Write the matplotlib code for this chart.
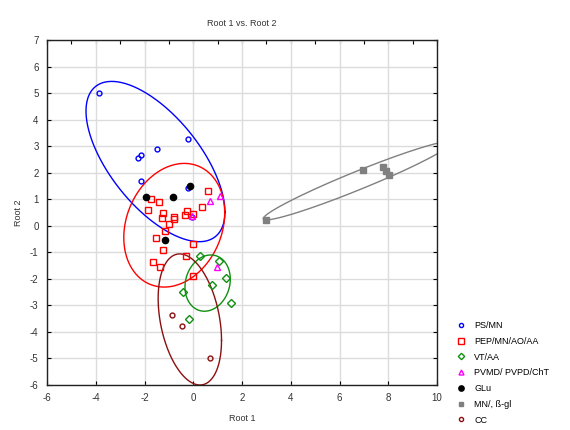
import numpy as np
import matplotlib
matplotlib.use("Agg")
import matplotlib.pyplot as plt
from matplotlib.ticker import MultipleLocator

plt.rcParams['font.family'] = ['Liberation Sans', 'DejaVu Sans']
plt.rcParams['axes.unicode_minus'] = False

# group scores (Root 1, Root 2)
ps_x = [-3.85, -0.20, -1.50, -2.16, -2.25, -2.16, -0.23, -0.04]
ps_y = [5.00, 3.27, 2.89, 2.68, 2.57, 1.68, 1.41, 0.34]

pep_x = [0.62, -1.73, -1.40, 0.35, -1.84, -0.26, -1.23, -0.33, 0.00, -0.79, -0.79,
         -1.30, -1.01, -1.17, -1.54, 0.00, -1.23, -0.30, -1.64, -1.36, -0.02]
pep_y = [1.31, 1.02, 0.88, 0.70, 0.59, 0.57, 0.47, 0.42, 0.44, 0.34, 0.24,
         0.30, 0.07, -0.20, -0.45, -0.70, -0.91, -1.14, -1.38, -1.57, -1.89]

vt_x = [0.28, 1.07, 1.34, 0.78, -0.43, 1.53, -0.16]
vt_y = [-1.14, -1.32, -1.98, -2.23, -2.48, -2.92, -3.51]

pvmd_x = [1.10, 0.70, -0.04, 0.99]
pvmd_y = [1.12, 0.92, 0.38, -1.55]

glu_x = [-0.15, -1.94, -0.83, -1.17]
glu_y = [1.51, 1.08, 1.07, -0.55]

mn_x = [2.98, 6.95, 7.80, 7.90, 8.05]
mn_y = [0.22, 2.10, 2.20, 2.05, 1.92]

cc_x = [-0.88, -0.47, 0.69]
cc_y = [-3.36, -3.78, -4.99]

# ellipses: centre, half extent in x and y, correlation
ell_cx = [-1.55, -0.78, 0.59, -0.14, 6.74]
ell_cy = [2.42, 0.02, -2.16, -3.53, 1.70]
ell_sx = [2.85, 2.07, 0.93, 1.30, 3.87]
ell_sy = [3.02, 2.33, 1.06, 2.47, 1.48]
ell_rho = [-0.63, 0.2, 0.14, -0.32, 0.968]
ell_col = ['#0000ff', '#ff0000', '#109010', '#8b1010', '#808080']

fig = plt.figure(figsize=(5.7, 4.3), dpi=100)
ax = fig.add_axes([47/570, 1-385/430, 390/570, 345/430])

t = np.linspace(0, 2*np.pi, 300)
for cx, cy, sx, sy, r, c in zip(ell_cx, ell_cy, ell_sx, ell_sy, ell_rho, ell_col):
    ex = cx + sx*np.cos(t)
    ey = cy + sy*(r*np.cos(t) + np.sqrt(1 - r*r)*np.sin(t))
    ax.plot(ex, ey, color=c, lw=1.0, zorder=2)

ax.plot(ps_x, ps_y, 'o', ms=3.5, mfc='none', mec='#0000ff', mew=1, ls='none', label='PS/MN', zorder=3)
ax.plot(pep_x, pep_y, 's', ms=4.5, mfc='none', mec='#ff0000', mew=1, ls='none', label='PEP/MN/AO/AA', zorder=3)
ax.plot(vt_x, vt_y, 'D', ms=3.8, mfc='none', mec='#109010', mew=1, ls='none', label='VT/AA', zorder=3)
ax.plot(pvmd_x, pvmd_y, '^', ms=4.2, mfc='none', mec='#ff00ff', mew=1, ls='none', label='PVMD/ PVPD/ChT', zorder=3)
ax.plot(glu_x, glu_y, 'o', ms=4.5, color='black', ls='none', label='GLu', zorder=3)
ax.plot(mn_x, mn_y, 's', ms=4.2, color='#808080', ls='none', label='MN/, ß-gl', zorder=3)
ax.plot(cc_x, cc_y, 'o', ms=3.5, mfc='none', mec='#8b1010', mew=1, ls='none', label='CC', zorder=3)

ax.set_xlim(-6, 10)
ax.set_ylim(-6, 7)
ax.xaxis.set_major_locator(MultipleLocator(2))
ax.yaxis.set_major_locator(MultipleLocator(1))
ax.grid(True, color='#dcdcdc', lw=1.0, zorder=0)
ax.set_axisbelow(True)
ax.tick_params(direction='in', length=3, width=0.8, labelsize=7, colors='black',
               labelcolor='#333333', top=False, right=True, pad=6)
secx = ax.secondary_xaxis('top')
secx.xaxis.set_major_locator(MultipleLocator(1))
secx.tick_params(direction='in', length=3, width=0.8, labeltop=False)
for s in ax.spines.values():
    s.set_color('#222222')
    s.set_linewidth(1.0)
secx.spines['top'].set_visible(False)

ax.set_title('Root 1 vs. Root 2', fontsize=6.5, color='#333333', pad=10)
ax.set_xlabel('Root 1', fontsize=6.5, color='#333333', labelpad=8)
ax.set_ylabel('Root 2', fontsize=6.5, color='#333333', labelpad=5)

fig.legend(loc='lower left', bbox_to_anchor=(450/570, 0.0), frameon=False,
           fontsize=6.5, handlelength=1.2, handletextpad=0.9, labelspacing=0.75,
           borderaxespad=0.2, markerscale=0.85)

fig.savefig('out.png', dpi=100)
